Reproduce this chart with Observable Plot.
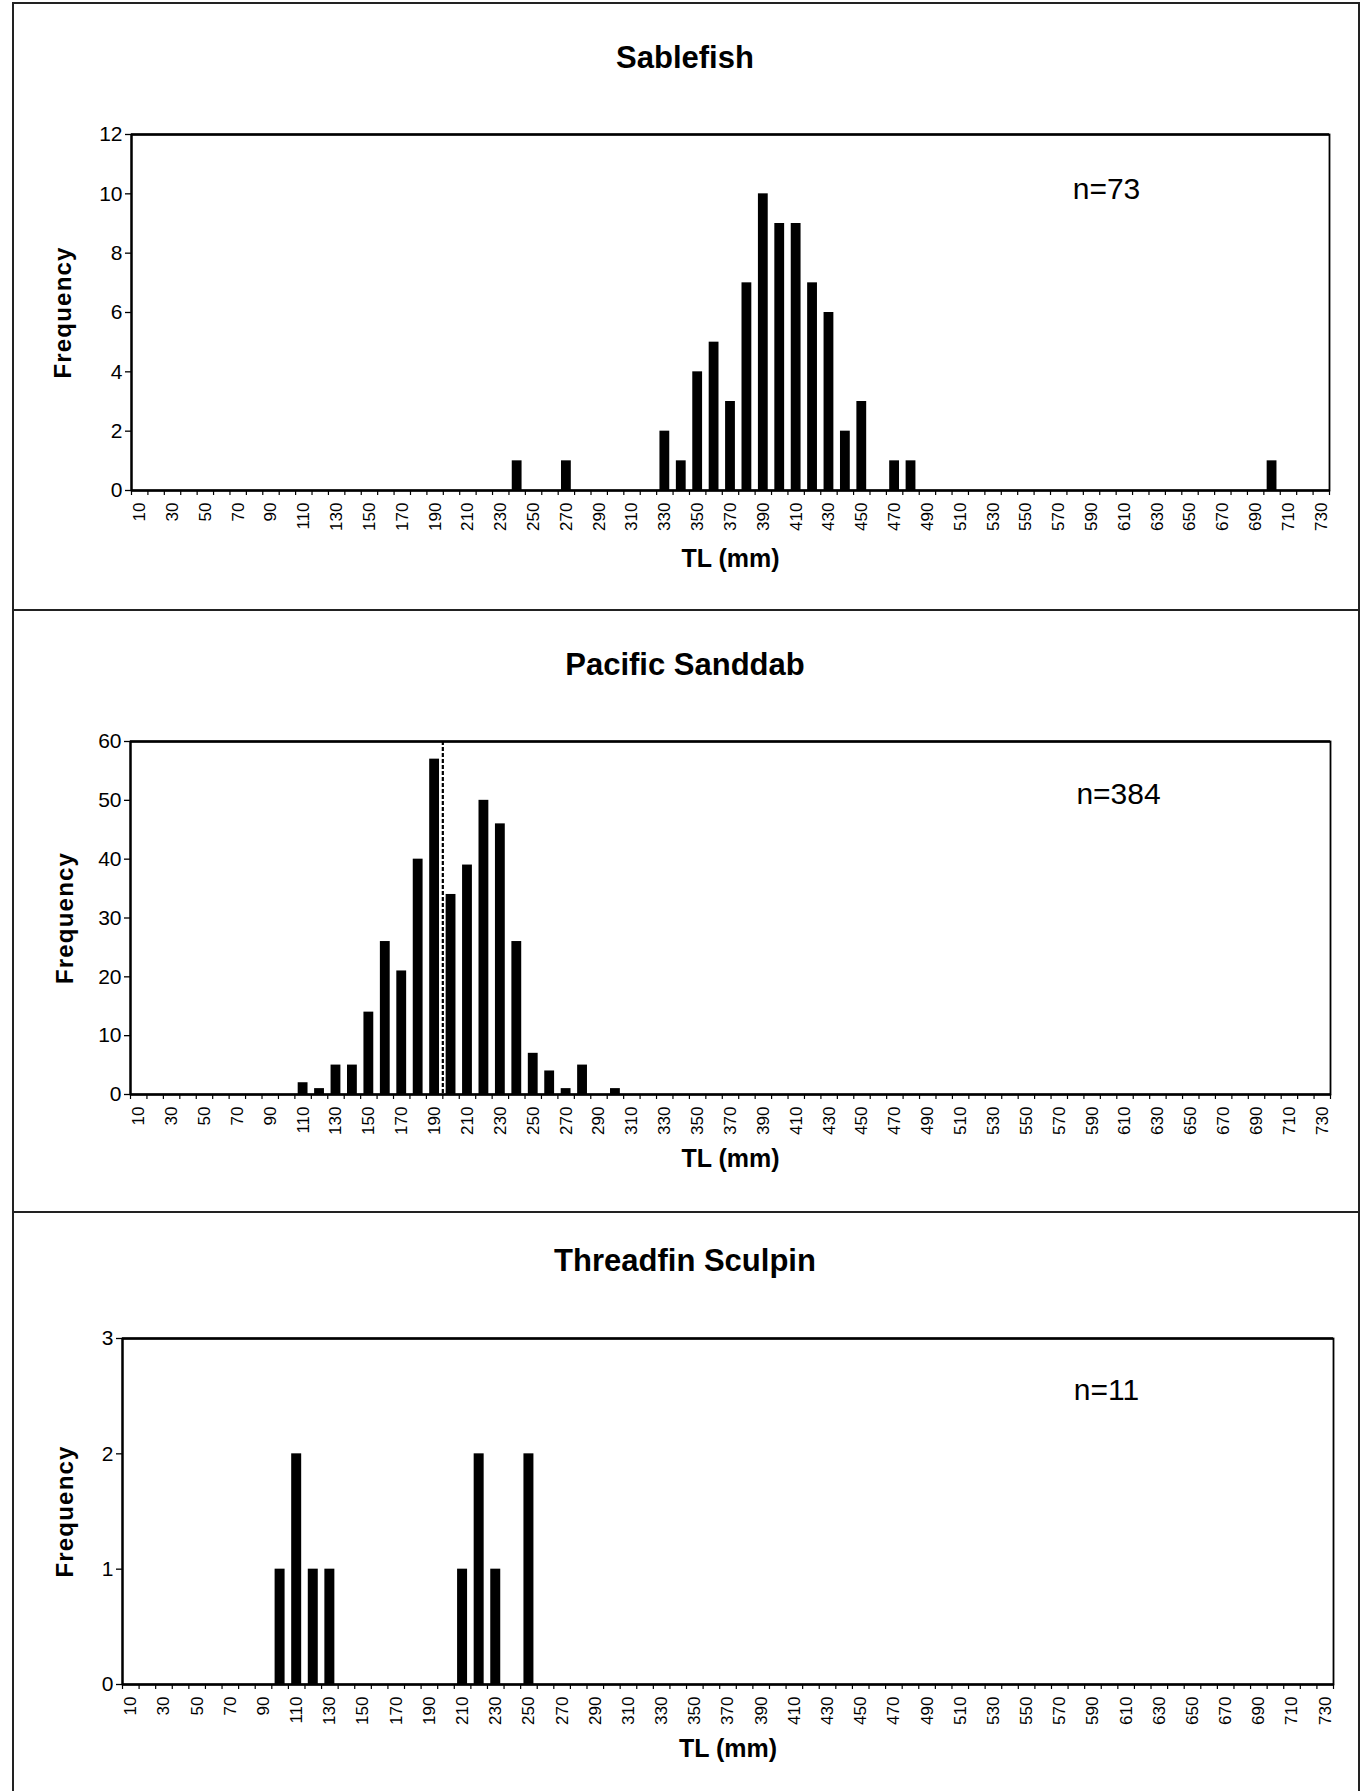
<!DOCTYPE html>
<html>
<head>
<meta charset="utf-8">
<script src="https://cdn.jsdelivr.net/npm/d3@7"></script>
<script src="https://cdn.jsdelivr.net/npm/@observablehq/plot@0.6"></script>
<style>
  html, body { margin: 0; padding: 0; background: #fff; }
  #page { position: relative; width: 1364px; height: 1791px; overflow: hidden;
          font-family: "Liberation Sans", Arial, Helvetica, sans-serif; color: #000; }
  .line { position: absolute; background: #222; z-index: 5; }
  .title { position: absolute; left: 0; width: 1370px; text-align: center; font-weight: bold;
           font-size: 31px; line-height: 31px; z-index: 4; }
  .panel { position: absolute; left: 0; z-index: 1; }
</style>
</head>
<body>
<div id="page"></div>
<script>
// ---------------- data ----------------
const tlCategories = [10,20,30,40,50,60,70,80,90,100,110,120,130,140,150,160,170,180,190,200,
  210,220,230,240,250,260,270,280,290,300,310,320,330,340,350,360,370,380,390,400,
  410,420,430,440,450,460,470,480,490,500,510,520,530,540,550,560,570,580,590,600,
  610,620,630,640,650,660,670,680,690,700,710,720,730];
const tlTickLabels = [10,30,50,70,90,110,130,150,170,190,210,230,250,270,290,310,330,350,370,
  390,410,430,450,470,490,510,530,550,570,590,610,630,650,670,690,710,730];

const sablefishTL    = [240,270,330,340,350,360,370,380,390,400,410,420,430,440,450,470,480,700];
const sablefishCount = [1,  1,  2,  1,  4,  5,  3,  7,  10, 9,  9,  7,  6,  2,  3,  1,  1,  1];

const sanddabTL    = [110,120,130,140,150,160,170,180,190,200,210,220,230,240,250,260,270,280,300];
const sanddabCount = [2,  1,  5,  5,  14, 26, 21, 40, 57, 34, 39, 50, 46, 26, 7,  4,  1,  5,  1];

const sculpinTL    = [100,110,120,130,210,220,230,250];
const sculpinCount = [1,  2,  1,  1,  1,  2,  1,  2];

const sablefishYTicks = [0,2,4,6,8,10,12];
const sanddabYTicks   = [0,10,20,30,40,50,60];
const sculpinYTicks   = [0,1,2,3];

const sanddabRefLine = [195];

const speciesTitles = ["Sablefish", "Pacific Sanddab", "Threadfin Sculpin"];
const sampleSizes   = ["n=73", "n=384", "n=11"];
const xAxisTitle = "TL (mm)";
const yAxisTitle = "Frequency";

// ---------------- layout ----------------
const page = document.getElementById("page");
const binWidth = tlCategories[1] - tlCategories[0];
const xDomain = [tlCategories[0] - binWidth / 2, tlCategories[tlCategories.length - 1] + binWidth / 2];
const boundaries = tlCategories.map(c => c - binWidth / 2).concat([xDomain[1]]);

function addLine(left, top, width, height) {
  const d = document.createElement("div");
  d.className = "line";
  Object.assign(d.style, {left: left + "px", top: top + "px", width: width + "px", height: height + "px"});
  page.appendChild(d);
}
// outer frame and dividers
addLine(12, 2, 1348, 1.5);
addLine(12, 2, 1.5, 1800);
addLine(1358, 2, 1.5, 1800);
addLine(12, 609, 1348, 1.5);
addLine(12, 1211, 1348, 1.5);

const panels = [
  {title: speciesTitles[0], n: sampleSizes[0], tl: sablefishTL, count: sablefishCount, yTicks: sablefishYTicks,
   titleY: 57, svgTop: 80, mTop: 54, inner: 356, mLeft: 131, mRight: 35, nDx: -223, nDy: 55, yTitleDx: -68, xTitleDy: 68, ref: null},
  {title: speciesTitles[1], n: sampleSizes[1], tl: sanddabTL, count: sanddabCount, yTicks: sanddabYTicks,
   titleY: 664, svgTop: 690, mTop: 51, inner: 353, mLeft: 130, mRight: 34, nDx: -212, nDy: 53, yTitleDx: -65, xTitleDy: 64, ref: sanddabRefLine},
  {title: speciesTitles[2], n: sampleSizes[2], tl: sculpinTL, count: sculpinCount, yTicks: sculpinYTicks,
   titleY: 1260, svgTop: 1290, mTop: 48, inner: 346, mLeft: 122, mRight: 31, nDx: -227, nDy: 52, yTitleDx: -57, xTitleDy: 64, ref: null}
];

for (const p of panels) {
  const t = document.createElement("div");
  t.className = "title";
  t.style.top = (p.titleY - 15.5) + "px";
  t.textContent = p.title;
  page.appendChild(t);

  const data = p.tl.map((tl, i) => ({tl, count: p.count[i]}));
  const yMax = p.yTicks[p.yTicks.length - 1];
  const mBottom = 90;

  const marks = [
    Plot.rectY(data, {x1: d => d.tl - binWidth / 2, x2: d => d.tl + binWidth / 2, y: "count",
                      insetLeft: 3.3, insetRight: 3.3, fill: "#000"}),
    Plot.frame({stroke: "#000", strokeWidth: 1.8}),
    Plot.ruleY([yMax], {stroke: "#000", strokeWidth: 2.4}),
    Plot.ruleY([0], {stroke: "#000", strokeWidth: 2.6}),
    Plot.ruleX([xDomain[0]], {stroke: "#000", strokeWidth: 2.2}),
    // tick marks
    Plot.axisY({ticks: p.yTicks, tickSize: 6, tickFormat: () => "", label: null, strokeWidth: 1.3}),
    Plot.axisX({ticks: boundaries, tickSize: 5, tickFormat: () => "", label: null, strokeWidth: 1.2}),
    // tick labels
    Plot.text(p.yTicks, {y: d => d, text: d => String(d), frameAnchor: "left", dx: -9,
                         textAnchor: "end", lineAnchor: "middle", fontSize: 21}),
    Plot.text(tlTickLabels, {x: d => d, text: d => String(d), frameAnchor: "bottom", dy: 12, rotate: -90,
                             textAnchor: "end", lineAnchor: "middle", fontSize: 17}),
    // titles and annotation
    Plot.text([yAxisTitle], {frameAnchor: "left", rotate: -90, dx: p.yTitleDx, fontSize: 24,
                             fontWeight: "bold", textAnchor: "middle", lineAnchor: "middle"}),
    Plot.text([xAxisTitle], {frameAnchor: "bottom", dy: p.xTitleDy, fontSize: 25, fontWeight: "bold",
                             textAnchor: "middle", lineAnchor: "middle"}),
    Plot.text([p.n], {frameAnchor: "top-right", dx: p.nDx, dy: p.nDy, fontSize: 30,
                      textAnchor: "middle", lineAnchor: "middle"})
  ];
  if (p.ref) {
    marks.push(Plot.ruleX(p.ref, {stroke: "#000", strokeWidth: 2.2, strokeDasharray: "4,2"}));
  }

  const svg = Plot.plot({
    width: 1364,
    height: p.mTop + p.inner + mBottom,
    marginTop: p.mTop,
    marginBottom: mBottom,
    marginLeft: p.mLeft,
    marginRight: p.mRight,
    x: {type: "linear", domain: xDomain},
    y: {domain: [0, yMax]},
    style: {fontFamily: "Liberation Sans, Arial, Helvetica, sans-serif", background: "white", color: "#000", overflow: "visible"},
    marks
  });
  // slightly spaced letters for the y-axis title, as in the original
  svg.querySelectorAll("text").forEach(el => {
    if (el.textContent === yAxisTitle) el.style.letterSpacing = "1.2px";
  });
  const wrap = document.createElement("div");
  wrap.className = "panel";
  wrap.style.top = p.svgTop + "px";
  wrap.appendChild(svg);
  page.appendChild(wrap);
}
</script>
</body>
</html>
